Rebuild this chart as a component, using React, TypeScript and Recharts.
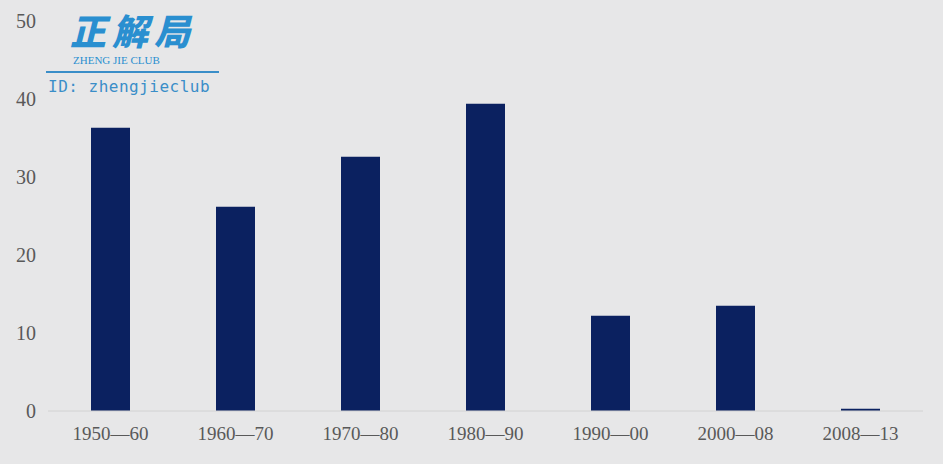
import React from 'react';
import { BarChart, Bar, XAxis, YAxis } from 'recharts';

// periods on the x axis
const periods = ['1950—60', '1960—70', '1970—80', '1980—90', '1990—00', '2000—08', '2008—13'];
// bar heights
const values = [36.3, 26.2, 32.6, 39.4, 12.2, 13.5, 0.3];
const yTicks = [0, 10, 20, 30, 40, 50];

const data = periods.map((p, i) => ({ period: p, value: values[i] }));

const xTickStyle = { fontFamily: '"Liberation Serif", serif', fontSize: 19, fill: '#595959' };
const yTickStyle = { fontFamily: '"Liberation Serif", serif', fontSize: 20, fill: '#595959' };

const Watermark = () => (
    <div style={{ position: 'absolute', left: 46, top: 8, width: 173, pointerEvents: 'none' }}>
        <div
            style={{
                fontFamily: '"Noto Sans CJK SC", sans-serif',
                fontWeight: 900,
                fontStyle: 'italic',
                fontSize: 36,
                lineHeight: '42px',
                height: 42,
                color: '#2a8fd0',
                paddingLeft: 24,
                letterSpacing: 6,
            }}
        >
            正解局
        </div>
        <div
            style={{
                fontFamily: '"Liberation Serif", serif',
                fontSize: 11,
                color: '#2a8fd0',
                paddingLeft: 27,
                lineHeight: '14px',
                marginTop: 3,
            }}
        >
            ZHENG JIE CLUB
        </div>
        <div style={{ height: 2, background: '#3a8ec8', margin: '4px 0 4px 0' }} />
        <div
            style={{
                fontFamily: '"DejaVu Sans Mono", monospace',
                fontSize: 16,
                letterSpacing: 0.5,
                color: '#3a8ec8',
                paddingLeft: 2,
                lineHeight: '19px',
            }}
        >
            ID: zhengjieclub
        </div>
    </div>
);

export default function App() {
    return (
        <div style={{ position: 'fixed', left: 0, top: 0, width: 943, height: 464, background: '#e7e7e8' }}>
            <BarChart
                width={943}
                height={464}
                data={data}
                margin={{ top: 21, right: 20, bottom: 0, left: 0 }}
            >
                <XAxis
                    dataKey="period"
                    height={53}
                    tickLine={false}
                    tickSize={0}
                    tickMargin={16}
                    axisLine={{ stroke: '#d2d2d2' }}
                    tick={xTickStyle}
                    interval={0}
                />
                <YAxis
                    width={48}
                    domain={[0, 50]}
                    ticks={yTicks}
                    axisLine={false}
                    tickLine={false}
                    tickSize={0}
                    tickMargin={12}
                    tick={yTickStyle}
                />
                <Bar dataKey="value" fill="#0b2160" barSize={39} isAnimationActive={false} />
            </BarChart>
            <Watermark />
        </div>
    );
}
